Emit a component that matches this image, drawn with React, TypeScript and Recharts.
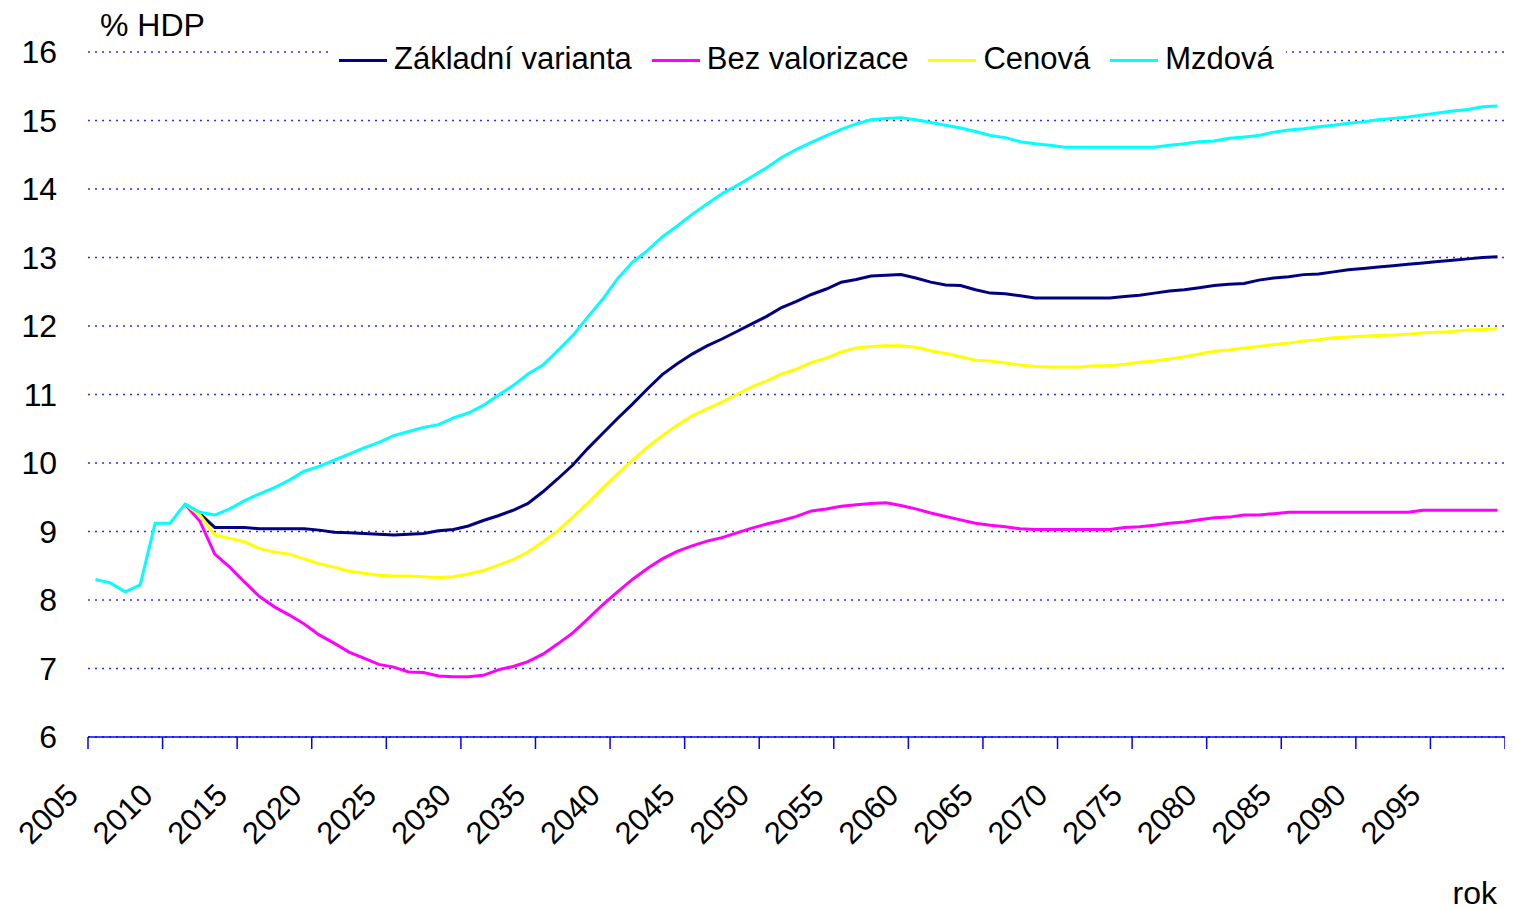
import { CartesianGrid, Line, LineChart, XAxis, YAxis } from "recharts"

const FONT = '"Liberation Sans", Arial, sans-serif'

// annual data 2005–2099
const YEARS: number[] = Array.from({ length: 95 }, (_, i) => 2005 + i)

const X_TICKS = [2005, 2010, 2015, 2020, 2025, 2030, 2035, 2040, 2045, 2050, 2055, 2060, 2065, 2070, 2075, 2080, 2085, 2090, 2095, 2100]
const Y_TICKS = [6, 7, 8, 9, 10, 11, 12, 13, 14, 15, 16]

const N = null

const ZAKLADNI = [
  N, N, N, N, N, N,
  9.40, 9.26, 9.06, 9.06, 9.06, 9.04, 9.04, 9.04, 9.04, 9.02,
  8.99, 8.98, 8.97, 8.96, 8.95, 8.96, 8.97, 9.01, 9.03, 9.08,
  9.16, 9.23, 9.31, 9.41, 9.58, 9.77, 9.97, 10.21, 10.43, 10.65,
  10.86, 11.08, 11.29, 11.45, 11.59, 11.71, 11.81, 11.92, 12.03, 12.14,
  12.27, 12.36, 12.46, 12.54, 12.64, 12.68, 12.73, 12.74, 12.75, 12.70,
  12.64, 12.60, 12.59, 12.53, 12.48, 12.47, 12.44, 12.41, 12.41, 12.41,
  12.41, 12.41, 12.41, 12.43, 12.45, 12.48, 12.51, 12.53, 12.56, 12.59,
  12.61, 12.62, 12.67, 12.70, 12.72, 12.75, 12.76, 12.79, 12.82, 12.84,
  12.86, 12.88, 12.90, 12.92, 12.94, 12.96, 12.98, 13.00, 13.01,
]

const BEZ_VALORIZACE = [
  N, N, N, N, N, N,
  9.40, 9.15, 8.67, 8.48, 8.26, 8.05, 7.90, 7.78, 7.65, 7.49,
  7.37, 7.24, 7.15, 7.06, 7.02, 6.95, 6.94, 6.89, 6.88, 6.88,
  6.90, 6.98, 7.03, 7.10, 7.21, 7.36, 7.52, 7.72, 7.93, 8.12,
  8.30, 8.46, 8.60, 8.71, 8.79, 8.86, 8.91, 8.98, 9.05, 9.11,
  9.16, 9.22, 9.30, 9.33, 9.37, 9.39, 9.41, 9.42, 9.38, 9.33,
  9.27, 9.22, 9.17, 9.12, 9.09, 9.07, 9.04, 9.03, 9.03, 9.03,
  9.03, 9.03, 9.03, 9.06, 9.07, 9.09, 9.12, 9.14, 9.17, 9.20,
  9.21, 9.24, 9.24, 9.26, 9.28, 9.28, 9.28, 9.28, 9.28, 9.28,
  9.28, 9.28, 9.28, 9.31, 9.31, 9.31, 9.31, 9.31, 9.31,
]

const CENOVA = [
  N, N, N, N, N, N,
  9.40, 9.24, 8.95, 8.90, 8.85, 8.75, 8.70, 8.67, 8.60, 8.53,
  8.48, 8.42, 8.39, 8.36, 8.35, 8.35, 8.34, 8.33, 8.34, 8.38,
  8.43, 8.51, 8.59, 8.70, 8.85, 9.01, 9.21, 9.41, 9.63, 9.84,
  10.04, 10.23, 10.40, 10.55, 10.69, 10.79, 10.89, 11.00, 11.11, 11.20,
  11.30, 11.37, 11.47, 11.53, 11.62, 11.68, 11.70, 11.71, 11.71, 11.69,
  11.64, 11.60, 11.55, 11.50, 11.49, 11.46, 11.43, 11.41, 11.40, 11.40,
  11.40, 11.42, 11.42, 11.44, 11.47, 11.49, 11.52, 11.55, 11.59, 11.63,
  11.65, 11.68, 11.70, 11.73, 11.75, 11.78, 11.80, 11.83, 11.84, 11.85,
  11.86, 11.87, 11.88, 11.90, 11.91, 11.92, 11.94, 11.95, 11.96,
]

const MZDOVA = [
  8.30, 8.25, 8.12, 8.22, 9.12, 9.12,
  9.40, 9.28, 9.24, 9.33, 9.45, 9.55, 9.64, 9.75, 9.88, 9.95,
  10.04, 10.13, 10.22, 10.30, 10.40, 10.46, 10.52, 10.56, 10.66, 10.73,
  10.84, 10.99, 11.13, 11.30, 11.43, 11.64, 11.86, 12.13, 12.39, 12.69,
  12.93, 13.10, 13.30, 13.46, 13.63, 13.78, 13.93, 14.05, 14.18, 14.31,
  14.46, 14.58, 14.68, 14.78, 14.87, 14.95, 15.01, 15.03, 15.04, 15.01,
  14.97, 14.93, 14.89, 14.84, 14.78, 14.75, 14.69, 14.66, 14.64, 14.61,
  14.61, 14.61, 14.61, 14.61, 14.61, 14.61, 14.64, 14.66, 14.69, 14.70,
  14.74, 14.76, 14.78, 14.83, 14.86, 14.88, 14.91, 14.93, 14.96, 14.98,
  15.01, 15.03, 15.05, 15.08, 15.11, 15.14, 15.16, 15.20, 15.21,
]

const SERIES = [
  { key: "zakladni", name: "Základní varianta", color: "#000080" },
  { key: "bez", name: "Bez valorizace", color: "#ff00ff" },
  { key: "cenova", name: "Cenová", color: "#ffff00" },
  { key: "mzdova", name: "Mzdová", color: "#00ffff" },
]

const data = YEARS.map((year, i) => ({
  year,
  zakladni: ZAKLADNI[i],
  bez: BEZ_VALORIZACE[i],
  cenova: CENOVA[i],
  mzdova: MZDOVA[i],
}))

function YearTick({ x, y, payload }: { x?: number; y?: number; payload?: { value: number } }) {
  if (!payload || payload.value === 2100) return <g />
  return (
    <g transform={`translate(${(x ?? 0) - 8},${(y ?? 0) + 46})`}>
      <text textAnchor="end" transform="rotate(-45)" fontSize={31} fontFamily={FONT} fill="#000">
        {payload.value}
      </text>
    </g>
  )
}

// legend sits over the top gridline on a white box, like the original
function LegendBox() {
  return (
    <div
      style={{
        position: "absolute",
        left: 320,
        top: 32,
        display: "flex",
        alignItems: "center",
        background: "#fff",
        height: 40,
        padding: "0 12px 0 11px",
        fontFamily: FONT,
        fontSize: 31,
        color: "#000",
        whiteSpace: "nowrap",
      }}
    >
      {SERIES.map((s, i) => (
        <div key={s.key} style={{ display: "flex", alignItems: "center", marginLeft: i ? 20 : 0 }}>
          <span style={{ display: "inline-block", width: 48, height: 3, background: s.color, marginRight: 7 }} />
          <span style={{ position: "relative", top: -1, lineHeight: "40px" }}>{s.name}</span>
        </div>
      ))}
    </div>
  )
}

export default function App() {
  return (
    <div style={{ position: "relative", width: 1505, height: 902 }}>
      <LineChart width={1505} height={902} data={data} margin={{ top: 44, right: 8, left: 0, bottom: 23 }}>
        <CartesianGrid vertical={false} stroke="#2b2bff" strokeDasharray="2 5" strokeWidth={1.5} />
        <XAxis
          type="number"
          // annual values sit mid-year, between the 5-year ticks
          dataKey={(d: { year: number }) => d.year + 0.5}
          domain={[2005, 2100]}
          ticks={X_TICKS}
          interval={0}
          height={150}
          tickSize={12}
          tickMargin={2}
          axisLine={{ stroke: "#0000ff", strokeWidth: 1.5 }}
          tickLine={{ stroke: "#0000ff", strokeWidth: 1.5 }}
          tick={<YearTick />}
        />
        <YAxis
          domain={[6, 16]}
          ticks={Y_TICKS}
          interval={0}
          width={80}
          axisLine={false}
          tickLine={false}
          tickSize={0}
          tickMargin={31}
          tick={{ fontSize: 32, fill: "#000", fontFamily: FONT }}
        />
        {SERIES.map((s) => (
          <Line
            key={s.key}
            type="linear"
            dataKey={s.key}
            name={s.name}
            stroke={s.color}
            strokeWidth={3}
            dot={false}
            activeDot={false}
            isAnimationActive={false}
          />
        ))}
      </LineChart>
      <LegendBox />
      <div style={{ position: "absolute", left: 92, top: 1, fontFamily: FONT, fontSize: 32, lineHeight: 1, color: "#000" }}>
        % HDP
      </div>
      <div style={{ position: "absolute", right: 16, top: 869, fontFamily: FONT, fontSize: 32, lineHeight: 1, color: "#000" }}>
        rok
      </div>
    </div>
  )
}
